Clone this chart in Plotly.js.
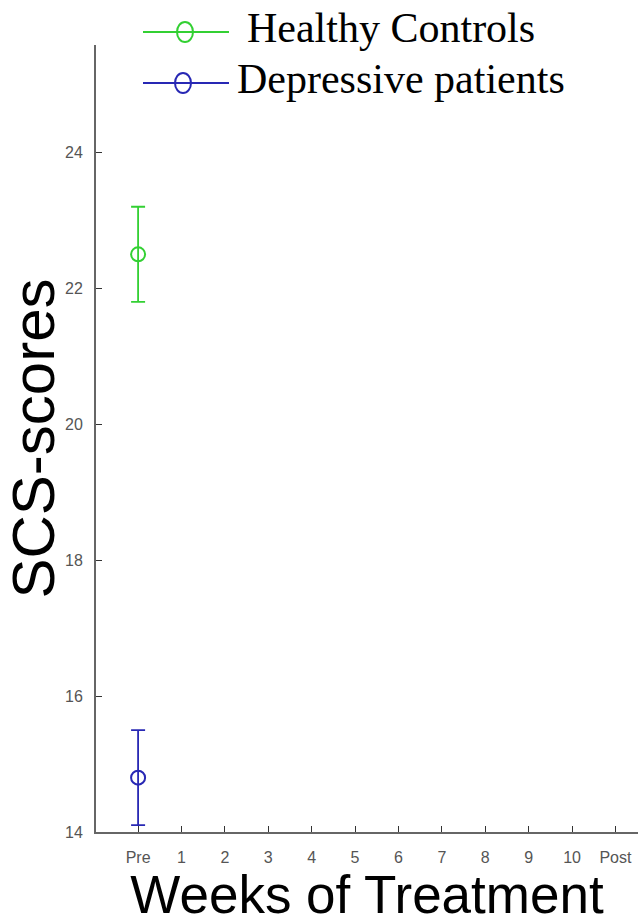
<!DOCTYPE html>
<html>
<head>
<meta charset="utf-8">
<script src="https://cdn.plot.ly/plotly-3.0.1.min.js"></script>
<style>html,body{margin:0;padding:0;background:#fff;overflow:hidden}</style>
</head>
<body>
<div id="chart" style="width:638px;height:924px"></div>
<script>
// ---- data ----
const tickPositions = [0,1,2,3,4,5,6,7,8,9,10,11];
const tickLabels = ['Pre','1','2','3','4','5','6','7','8','9','10','Post'];
const seriesNames = ['Healthy Controls','Depressive patients'];
const healthyX = [0];
const healthyMean = [22.5];
const healthyErr = [0.7];
const depressiveX = [0];
const depressiveMean = [14.8];
const depressiveErr = [0.7];

// ---- style ----
const GREEN = '#33d033';
const BLUE = '#2828b4';

// layout geometry (pixels)
const L = 96, T = 45, W = 638, H = 924, B = 92;
const plotW = W - L, plotH = H - T - B;
const px = v => (v - L) / plotW;
const py = v => (H - B - v) / plotH;

function trace(x, y, err, name, color) {
  return {
    type: 'scatter', mode: 'lines+markers', name: name,
    x: x, y: y,
    error_y: {type: 'data', array: err, visible: true, color: color, thickness: 1.8, width: 7},
    line: {color: color, width: 1.8},
    marker: {symbol: 'circle-open', size: 14, color: color, line: {width: 2, color: color}},
    showlegend: false
  };
}

const data = [
  trace(healthyX, healthyMean, healthyErr, seriesNames[0], GREEN),
  trace(depressiveX, depressiveMean, depressiveErr, seriesNames[1], BLUE)
];

// manual legend (long line sample like the original)
const legendRows = [
  {name: seriesNames[0], color: GREEN, lineY: 32, cx: 185, textX: 245, textY: 28},
  {name: seriesNames[1], color: BLUE, lineY: 83, cx: 183, textX: 235, textY: 79}
];
const shapes = [], annotations = [];
legendRows.forEach(r => {
  shapes.push({type: 'line', xref: 'paper', yref: 'paper', x0: px(143), x1: px(229), y0: py(r.lineY), y1: py(r.lineY),
    line: {color: r.color, width: 1.8}});
  shapes.push({type: 'circle', xref: 'paper', yref: 'paper', xsizemode: 'pixel', ysizemode: 'pixel',
    xanchor: px(r.cx), yanchor: py(r.lineY), x0: -8, x1: 8, y0: -10, y1: 10,
    line: {color: r.color, width: 2}, fillcolor: 'rgba(0,0,0,0)'});
  annotations.push({xref: 'paper', yref: 'paper', x: px(r.textX), y: py(r.textY), xanchor: 'left', yanchor: 'middle',
    text: r.name, showarrow: false, font: {family: 'Liberation Serif, Times New Roman, serif', size: 42, color: '#000'}});
});

const layout = {
  width: W, height: H,
  margin: {l: L, r: 0, t: T, b: B, pad: 0},
  paper_bgcolor: '#fff', plot_bgcolor: '#fff',
  showlegend: false,
  xaxis: {
    range: [-0.97, 11.52],
    tickmode: 'array', tickvals: tickPositions, ticktext: tickLabels,
    ticks: 'inside', ticklen: 6, tickwidth: 1, tickcolor: '#333',
    showline: true, linecolor: '#666', linewidth: 2,
    showgrid: false, zeroline: false,
    tickfont: {family: 'Liberation Sans, Arial, sans-serif', size: 16, color: '#555'},
    ticklabelstandoff: 10,
    title: {text: 'Weeks of Treatment', font: {family: 'Liberation Sans, Arial, sans-serif', size: 53, color: '#000'}, standoff: 16}
  },
  yaxis: {
    range: [14, 25.58],
    tickvals: [14, 16, 18, 20, 22, 24],
    ticks: 'inside', ticklen: 6, tickwidth: 1, tickcolor: '#333',
    showline: true, linecolor: '#666', linewidth: 2,
    showgrid: false, zeroline: false,
    tickfont: {family: 'Liberation Sans, Arial, sans-serif', size: 16, color: '#555'},
    ticklabelstandoff: 8,
    title: {text: 'SCS-scores', font: {family: 'Liberation Sans, Arial, sans-serif', size: 60, color: '#000'}, standoff: 10}
  },
  shapes: shapes,
  annotations: annotations
};

Plotly.newPlot('chart', data, layout, {displayModeBar: false, staticPlot: true});
</script>
</body>
</html>
